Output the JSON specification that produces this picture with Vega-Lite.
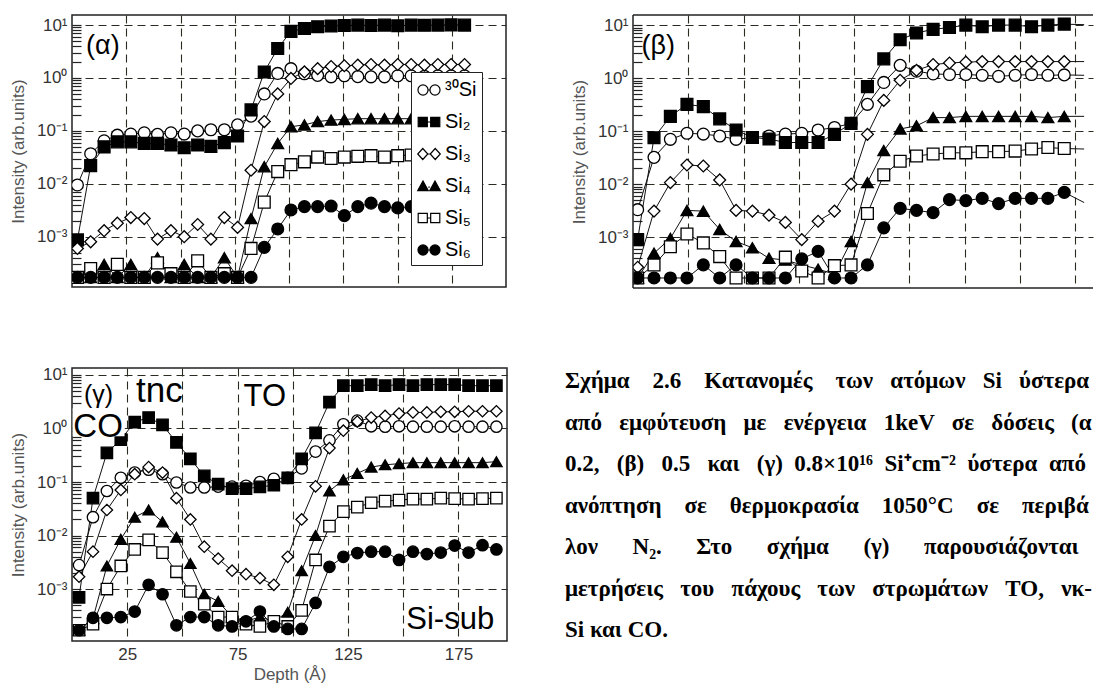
{
"$schema": "https://vega.github.io/schema/vega-lite/v6.json",
"background": "white",
"padding": {"left": 8, "top": 14, "right": 0, "bottom": 0},
"autosize": {"type": "pad"},
"config": {
  "view": {"stroke": "#222", "strokeWidth": 1.5},
  "font": "Liberation Sans",
  "axis": {"gridColor": "#2b2b22", "gridDash": [8, 5], "gridWidth": 1.1, "gridOpacity": 1, "tickColor": "#222", "tickWidth": 1.2, "labelFont": "Liberation Sans", "labelFontSize": 17, "labelColor": "#333", "titleFont": "Liberation Sans", "titleFontSize": 17, "titleFontWeight": "normal", "titleColor": "#555", "domain": false}
},
"datasets": {
  "alpha": [
    {"d":2.5,"³⁰Si":0.0095,"Si₂":0.00087,"Si₃":0.0006,"Si₄":0.00017,"Si₅":0.00017,"Si₆":0.00017},
    {"d":8.6,"³⁰Si":0.037,"Si₂":0.022,"Si₃":0.0008,"Si₄":0.00017,"Si₅":0.00025,"Si₆":0.00017},
    {"d":14.8,"³⁰Si":0.065,"Si₂":0.05,"Si₃":0.0013,"Si₄":0.0003,"Si₅":0.00017,"Si₆":0.00017},
    {"d":20.9,"³⁰Si":0.083,"Si₂":0.062,"Si₃":0.0018,"Si₄":0.00017,"Si₅":0.0003,"Si₆":0.00017},
    {"d":27.1,"³⁰Si":0.087,"Si₂":0.062,"Si₃":0.0023,"Si₄":0.0003,"Si₅":0.00017,"Si₆":0.00017},
    {"d":33.3,"³⁰Si":0.092,"Si₂":0.058,"Si₃":0.0022,"Si₄":0.00017,"Si₅":0.00017,"Si₆":0.00017},
    {"d":39.4,"³⁰Si":0.086,"Si₂":0.058,"Si₃":0.0009,"Si₄":0.0004,"Si₅":0.00032,"Si₆":0.00017},
    {"d":45.6,"³⁰Si":0.092,"Si₂":0.054,"Si₃":0.0013,"Si₄":0.00017,"Si₅":0.0002,"Si₆":0.00017},
    {"d":51.7,"³⁰Si":0.087,"Si₂":0.048,"Si₃":0.001,"Si₄":0.0003,"Si₅":0.00017,"Si₆":0.00017},
    {"d":57.9,"³⁰Si":0.1,"Si₂":0.054,"Si₃":0.0017,"Si₄":0.00017,"Si₅":0.00035,"Si₆":0.00017},
    {"d":64.0,"³⁰Si":0.105,"Si₂":0.051,"Si₃":0.0009,"Si₄":0.00017,"Si₅":0.00017,"Si₆":0.00017},
    {"d":70.2,"³⁰Si":0.105,"Si₂":0.06,"Si₃":0.0023,"Si₄":0.0004,"Si₅":0.0002,"Si₆":0.00017},
    {"d":76.3,"³⁰Si":0.13,"Si₂":0.08,"Si₃":0.0015,"Si₄":0.00017,"Si₅":0.00017,"Si₆":0.00017},
    {"d":82.5,"³⁰Si":0.19,"Si₂":0.25,"Si₃":0.018,"Si₄":0.0022,"Si₅":0.0006,"Si₆":0.00017},
    {"d":88.6,"³⁰Si":0.5,"Si₂":1.3,"Si₃":0.15,"Si₄":0.021,"Si₅":0.0045,"Si₆":0.00063},
    {"d":94.8,"³⁰Si":1.22,"Si₂":3.6,"Si₃":0.5,"Si₄":0.058,"Si₅":0.017,"Si₆":0.0014},
    {"d":100.9,"³⁰Si":1.5,"Si₂":7.6,"Si₃":0.98,"Si₄":0.12,"Si₅":0.023,"Si₆":0.0032},
    {"d":107.1,"³⁰Si":1.2,"Si₂":8.6,"Si₃":1.3,"Si₄":0.13,"Si₅":0.026,"Si₆":0.0037},
    {"d":113.2,"³⁰Si":1.12,"Si₂":9.3,"Si₃":1.5,"Si₄":0.15,"Si₅":0.032,"Si₆":0.0037},
    {"d":119.4,"³⁰Si":1.05,"Si₂":9.6,"Si₃":1.65,"Si₄":0.16,"Si₅":0.03,"Si₆":0.0038},
    {"d":125.5,"³⁰Si":1.1,"Si₂":9.8,"Si₃":1.7,"Si₄":0.165,"Si₅":0.032,"Si₆":0.0025},
    {"d":131.7,"³⁰Si":1.06,"Si₂":10,"Si₃":1.75,"Si₄":0.17,"Si₅":0.033,"Si₆":0.0037},
    {"d":137.8,"³⁰Si":1.05,"Si₂":9.8,"Si₃":1.8,"Si₄":0.17,"Si₅":0.034,"Si₆":0.0043},
    {"d":144.0,"³⁰Si":1.05,"Si₂":10,"Si₃":1.75,"Si₄":0.17,"Si₅":0.032,"Si₆":0.0037},
    {"d":150.1,"³⁰Si":1.1,"Si₂":9.7,"Si₃":1.8,"Si₄":0.17,"Si₅":0.034,"Si₆":0.0035},
    {"d":156.3,"³⁰Si":1.1,"Si₂":10,"Si₃":1.8,"Si₄":0.17,"Si₅":0.035,"Si₆":0.0037},
    {"d":162.4,"³⁰Si":1.08,"Si₂":9.9,"Si₃":1.75,"Si₄":0.17,"Si₅":0.035,"Si₆":0.004},
    {"d":168.6,"³⁰Si":1.1,"Si₂":10,"Si₃":1.8,"Si₄":0.17,"Si₅":0.035,"Si₆":0.004},
    {"d":174.7,"³⁰Si":1.1,"Si₂":10.1,"Si₃":1.8,"Si₄":0.17,"Si₅":0.035,"Si₆":0.004},
    {"d":180.9,"³⁰Si":1.1,"Si₂":10,"Si₃":1.8,"Si₄":0.17,"Si₅":0.035,"Si₆":0.004}
  ],
  "beta": [
    {"d":2.1,"³⁰Si":0.0033,"Si₂":0.0009,"Si₃":0.00027,"Si₄":0.00017,"Si₅":0.00017,"Si₆":0.00017},
    {"d":9.5,"³⁰Si":0.032,"Si₂":0.075,"Si₃":0.0031,"Si₄":0.0005,"Si₅":0.0003,"Si₆":0.00017},
    {"d":16.9,"³⁰Si":0.07,"Si₂":0.19,"Si₃":0.0107,"Si₄":0.00095,"Si₅":0.00066,"Si₆":0.00017},
    {"d":24.4,"³⁰Si":0.091,"Si₂":0.32,"Si₃":0.023,"Si₄":0.0032,"Si₅":0.00115,"Si₆":0.00017},
    {"d":31.8,"³⁰Si":0.088,"Si₂":0.29,"Si₃":0.022,"Si₄":0.0031,"Si₅":0.00078,"Si₆":0.0003},
    {"d":39.2,"³⁰Si":0.081,"Si₂":0.17,"Si₃":0.012,"Si₄":0.0014,"Si₅":0.00043,"Si₆":0.00017},
    {"d":46.6,"³⁰Si":0.07,"Si₂":0.105,"Si₃":0.0032,"Si₄":0.00083,"Si₅":0.00017,"Si₆":0.0003},
    {"d":54.0,"³⁰Si":0.076,"Si₂":0.076,"Si₃":0.0031,"Si₄":0.00063,"Si₅":0.00017,"Si₆":0.00017},
    {"d":61.5,"³⁰Si":0.081,"Si₂":0.071,"Si₃":0.0026,"Si₄":0.0004,"Si₅":0.00017,"Si₆":0.00017},
    {"d":68.9,"³⁰Si":0.088,"Si₂":0.061,"Si₃":0.0019,"Si₄":0.00037,"Si₅":0.00042,"Si₆":0.00017},
    {"d":76.3,"³⁰Si":0.091,"Si₂":0.061,"Si₃":0.0009,"Si₄":0.0003,"Si₅":0.00023,"Si₆":0.00039},
    {"d":83.7,"³⁰Si":0.105,"Si₂":0.061,"Si₃":0.002,"Si₄":0.00025,"Si₅":0.00017,"Si₆":0.00054},
    {"d":91.1,"³⁰Si":0.117,"Si₂":0.087,"Si₃":0.0031,"Si₄":0.0002,"Si₅":0.00029,"Si₆":0.00017},
    {"d":98.6,"³⁰Si":0.14,"Si₂":0.14,"Si₃":0.01,"Si₄":0.00083,"Si₅":0.0003,"Si₆":0.00017},
    {"d":106.0,"³⁰Si":0.32,"Si₂":0.69,"Si₃":0.087,"Si₄":0.0107,"Si₅":0.0028,"Si₆":0.0003},
    {"d":113.4,"³⁰Si":0.83,"Si₂":2.3,"Si₃":0.38,"Si₄":0.043,"Si₅":0.015,"Si₆":0.0015},
    {"d":120.8,"³⁰Si":1.74,"Si₂":5.3,"Si₃":0.91,"Si₄":0.11,"Si₅":0.027,"Si₆":0.0035},
    {"d":128.2,"³⁰Si":1.35,"Si₂":7.1,"Si₃":1.4,"Si₄":0.126,"Si₅":0.034,"Si₆":0.0032},
    {"d":135.7,"³⁰Si":1.2,"Si₂":8.3,"Si₃":1.8,"Si₄":0.18,"Si₅":0.037,"Si₆":0.0029},
    {"d":143.1,"³⁰Si":1.17,"Si₂":9.0,"Si₃":1.93,"Si₄":0.18,"Si₅":0.039,"Si₆":0.0051},
    {"d":150.5,"³⁰Si":1.17,"Si₂":10,"Si₃":2.0,"Si₄":0.19,"Si₅":0.039,"Si₆":0.0049},
    {"d":157.9,"³⁰Si":1.13,"Si₂":9.3,"Si₃":2.05,"Si₄":0.19,"Si₅":0.041,"Si₆":0.0054},
    {"d":165.3,"³⁰Si":1.08,"Si₂":10,"Si₃":2.05,"Si₄":0.19,"Si₅":0.041,"Si₆":0.0043},
    {"d":172.8,"³⁰Si":1.13,"Si₂":10,"Si₃":2.05,"Si₄":0.19,"Si₅":0.042,"Si₆":0.0054},
    {"d":180.2,"³⁰Si":1.17,"Si₂":9.3,"Si₃":2.05,"Si₄":0.19,"Si₅":0.046,"Si₆":0.0054},
    {"d":187.6,"³⁰Si":1.13,"Si₂":10,"Si₃":2.05,"Si₄":0.18,"Si₅":0.049,"Si₆":0.0054},
    {"d":195.0,"³⁰Si":1.15,"Si₂":10.4,"Si₃":2.05,"Si₄":0.19,"Si₅":0.047,"Si₆":0.007},
    {"d":204.0,"³⁰Si":1.13,"Si₂":10.2,"Si₃":2.05,"Si₄":0.19,"Si₅":0.046,"Si₆":0.0045}
  ],
  "gamma": [
    {"d":3.2,"³⁰Si":0.0028,"Si₂":0.0007,"Si₃":0.0017,"Si₄":0.00017,"Si₅":0.00017,"Si₆":0.00017},
    {"d":9.5,"³⁰Si":0.022,"Si₂":0.05,"Si₃":0.005,"Si₄":0.00028,"Si₅":0.00022,"Si₆":0.00029},
    {"d":15.8,"³⁰Si":0.068,"Si₂":0.35,"Si₃":0.03,"Si₄":0.0027,"Si₅":0.001,"Si₆":0.00029},
    {"d":22.1,"³⁰Si":0.12,"Si₂":0.62,"Si₃":0.071,"Si₄":0.0085,"Si₅":0.0027,"Si₆":0.0003},
    {"d":28.4,"³⁰Si":0.15,"Si₂":1.32,"Si₃":0.14,"Si₄":0.022,"Si₅":0.0055,"Si₆":0.00038},
    {"d":34.7,"³⁰Si":0.17,"Si₂":1.6,"Si₃":0.19,"Si₄":0.03,"Si₅":0.0083,"Si₆":0.0012},
    {"d":41.0,"³⁰Si":0.14,"Si₂":1.17,"Si₃":0.15,"Si₄":0.018,"Si₅":0.0048,"Si₆":0.0008},
    {"d":47.3,"³⁰Si":0.098,"Si₂":0.55,"Si₃":0.05,"Si₄":0.0093,"Si₅":0.0021,"Si₆":0.00021},
    {"d":53.6,"³⁰Si":0.079,"Si₂":0.27,"Si₃":0.02,"Si₄":0.003,"Si₅":0.0009,"Si₆":0.0003},
    {"d":59.9,"³⁰Si":0.079,"Si₂":0.13,"Si₃":0.0062,"Si₄":0.0008,"Si₅":0.00052,"Si₆":0.0003},
    {"d":66.2,"³⁰Si":0.082,"Si₂":0.091,"Si₃":0.0037,"Si₄":0.00059,"Si₅":0.0003,"Si₆":0.00021},
    {"d":72.5,"³⁰Si":0.082,"Si₂":0.075,"Si₃":0.0022,"Si₄":0.0003,"Si₅":0.0003,"Si₆":0.0002},
    {"d":78.8,"³⁰Si":0.085,"Si₂":0.075,"Si₃":0.0019,"Si₄":0.00025,"Si₅":0.00022,"Si₆":0.00025},
    {"d":85.1,"³⁰Si":0.1,"Si₂":0.081,"Si₃":0.0016,"Si₄":0.0003,"Si₅":0.0002,"Si₆":0.00038},
    {"d":91.4,"³⁰Si":0.115,"Si₂":0.087,"Si₃":0.0012,"Si₄":0.00025,"Si₅":0.00025,"Si₆":0.0002},
    {"d":97.7,"³⁰Si":0.12,"Si₂":0.12,"Si₃":0.004,"Si₄":0.00037,"Si₅":0.0002,"Si₆":0.00018},
    {"d":104.0,"³⁰Si":0.18,"Si₂":0.27,"Si₃":0.02,"Si₄":0.0022,"Si₅":0.0004,"Si₆":0.00018},
    {"d":110.3,"³⁰Si":0.37,"Si₂":0.83,"Si₃":0.083,"Si₄":0.01,"Si₅":0.0035,"Si₆":0.00055},
    {"d":116.6,"³⁰Si":0.6,"Si₂":3.1,"Si₃":0.43,"Si₄":0.068,"Si₅":0.015,"Si₆":0.0026},
    {"d":122.9,"³⁰Si":1.2,"Si₂":6.3,"Si₃":0.91,"Si₄":0.11,"Si₅":0.028,"Si₆":0.004},
    {"d":129.2,"³⁰Si":1.4,"Si₂":6.3,"Si₃":1.35,"Si₄":0.145,"Si₅":0.034,"Si₆":0.0047},
    {"d":135.5,"³⁰Si":1.1,"Si₂":6.6,"Si₃":1.6,"Si₄":0.19,"Si₅":0.041,"Si₆":0.005},
    {"d":141.8,"³⁰Si":1.08,"Si₂":6.3,"Si₃":1.72,"Si₄":0.21,"Si₅":0.044,"Si₆":0.005},
    {"d":148.1,"³⁰Si":1.1,"Si₂":6.6,"Si₃":1.9,"Si₄":0.22,"Si₅":0.046,"Si₆":0.0035},
    {"d":154.4,"³⁰Si":1.08,"Si₂":6.3,"Si₃":2.0,"Si₄":0.23,"Si₅":0.048,"Si₆":0.005},
    {"d":160.7,"³⁰Si":1.08,"Si₂":6.6,"Si₃":2.0,"Si₄":0.23,"Si₅":0.048,"Si₆":0.0045},
    {"d":167.0,"³⁰Si":1.08,"Si₂":6.6,"Si₃":2.05,"Si₄":0.23,"Si₅":0.05,"Si₆":0.0048},
    {"d":173.3,"³⁰Si":1.1,"Si₂":6.6,"Si₃":2.05,"Si₄":0.23,"Si₅":0.049,"Si₆":0.0065},
    {"d":179.6,"³⁰Si":1.08,"Si₂":6.3,"Si₃":2.1,"Si₄":0.23,"Si₅":0.048,"Si₆":0.0048},
    {"d":185.9,"³⁰Si":1.08,"Si₂":6.3,"Si₃":2.1,"Si₄":0.23,"Si₅":0.049,"Si₆":0.0066},
    {"d":192.2,"³⁰Si":1.08,"Si₂":6.3,"Si₃":2.1,"Si₄":0.24,"Si₅":0.05,"Si₆":0.0055}
  ]
},
"spacing": 76,
"vconcat": [
 {"hconcat": [
  {
   "width": 434, "height": 272,
   "layer": [
    {"data": {"name": "alpha"}, "transform": [{"fold": ["³⁰Si","Si₂","Si₃","Si₄","Si₅","Si₆"], "as": ["s","v"]}],
     "mark": {"type": "line", "color": "#111", "strokeWidth": 1, "clip": true},
     "encoding": {
      "x": {"field": "d", "type": "quantitative", "scale": {"domain": [0, 200], "nice": false, "zero": false}, "axis": {"values": [25,50,75,100,125,150,175], "labels": false, "ticks": false, "title": null, "grid": true}},
      "y": {"field": "v", "type": "quantitative", "scale": {"type": "log", "domain": [0.000112, 15.5], "nice": false}, "axis": {"title": "Intensity (arb.units)", "values": [0.0002,0.0003,0.0004,0.0005,0.0006,0.0007,0.0008,0.0009,0.001,0.002,0.003,0.004,0.005,0.006,0.007,0.008,0.009,0.01,0.02,0.03,0.04,0.05,0.06,0.07,0.08,0.09,0.1,0.2,0.3,0.4,0.5,0.6,0.7,0.8,0.9,1,2,3,4,5,6,7,8,9,10], "labelExpr": "datum.value==10?'10¹':datum.value==1?'10⁰':datum.value==0.1?'10⁻¹':datum.value==0.01?'10⁻²':datum.value==0.001?'10⁻³':''", "labelOverlap": false, "labelBound": false, "labelFlush": false, "grid": true, "gridOpacity": {"condition": {"test": "datum.value==10||datum.value==1||datum.value==0.1||datum.value==0.01||datum.value==0.001", "value": 1}, "value": 0}, "tickSize": -9, "labelPadding": 14, "titlePadding": 9}},
      "detail": {"field": "s"}
     }},
    {"data": {"name": "alpha"}, "transform": [{"fold": ["³⁰Si","Si₂","Si₃","Si₄","Si₅","Si₆"], "as": ["s","v"]}],
     "mark": {"type": "point", "filled": true, "stroke": "#000", "strokeWidth": 1.3, "size": 140, "opacity": 1, "clip": true},
     "encoding": {
      "x": {"field": "d", "type": "quantitative", "scale": {"domain": [0, 200], "nice": false, "zero": false}},
      "y": {"field": "v", "type": "quantitative", "scale": {"type": "log", "domain": [0.000112, 15.5], "nice": false}},
      "shape": {"field": "s", "type": "nominal", "scale": {"domain": ["³⁰Si","Si₂","Si₃","Si₄","Si₅","Si₆"], "range": ["circle","square","diamond","triangle-up","square","circle"]}, "legend": null},
      "fill": {"field": "s", "type": "nominal", "scale": {"domain": ["³⁰Si","Si₂","Si₃","Si₄","Si₅","Si₆"], "range": ["#fff","#000","#fff","#000","#fff","#000"]}, "legend": null}
     }},
    {"data": {"name": "alpha"}, "transform": [{"fold": ["³⁰Si","Si₂","Si₃","Si₄","Si₅","Si₆"], "as": ["s","v"]}, {"filter": "false"}],
     "mark": {"type": "point", "filled": true, "strokeWidth": 1.2, "opacity": 1},
     "encoding": {
      "x": {"field": "d", "type": "quantitative", "scale": {"domain": [0, 200], "nice": false, "zero": false}},
      "y": {"field": "v", "type": "quantitative", "scale": {"type": "log", "domain": [0.000112, 15.5], "nice": false}},
      "shape": {"field": "s", "type": "nominal", "scale": {"domain": ["³⁰Si","Si₂","Si₃","Si₄","Si₅","Si₆"], "range": [
        "M-0.92,0A0.42,0.42,0,1,0,-0.08,0A0.42,0.42,0,1,0,-0.92,0ZM-0.08,0H0.08M0.08,0A0.42,0.42,0,1,0,0.92,0A0.42,0.42,0,1,0,0.08,0Z",
        "M-0.9,-0.38H-0.14V0.38H-0.9ZM-0.14,0H0.14M0.14,-0.38H0.9V0.38H0.14Z",
        "M-0.52,-0.46L-0.1,0L-0.52,0.46L-0.94,0ZM-0.1,0H0.1M0.52,-0.46L0.94,0L0.52,0.46L0.1,0Z",
        "M-0.5,-0.42L-0.06,0.38H-0.94ZM-0.06,0.1H0.06M0.5,-0.42L0.94,0.38H0.06Z",
        "M-0.9,-0.38H-0.14V0.38H-0.9ZM-0.14,0H0.14M0.14,-0.38H0.9V0.38H0.14Z",
        "M-0.92,0A0.42,0.42,0,1,0,-0.08,0A0.42,0.42,0,1,0,-0.92,0ZM-0.08,0H0.08M0.08,0A0.42,0.42,0,1,0,0.92,0A0.42,0.42,0,1,0,0.08,0Z"]},
        "legend": {"title": null, "orient": "none", "legendX": 339, "legendY": 57, "padding": 5, "rowPadding": 9, "labelFont": "Liberation Sans", "labelFontSize": 20, "labelColor": "#000", "labelOffset": 3, "symbolSize": 576, "symbolStrokeWidth": 1.2, "symbolOpacity": 1, "strokeColor": "#222", "fillColor": "#fff", "zindex": 1}},
      "fill": {"field": "s", "type": "nominal", "scale": {"domain": ["³⁰Si","Si₂","Si₃","Si₄","Si₅","Si₆"], "range": ["#fff","#000","#fff","#000","#fff","#000"]},
        "legend": {"title": null, "orient": "none", "legendX": 339, "legendY": 57, "padding": 5, "rowPadding": 9, "labelFont": "Liberation Sans", "labelFontSize": 20, "labelColor": "#000", "labelOffset": 3, "symbolSize": 576, "symbolStrokeWidth": 1.2, "symbolOpacity": 1, "strokeColor": "#222", "fillColor": "#fff", "zindex": 1}},
      "stroke": {"field": "s", "type": "nominal", "scale": {"domain": ["³⁰Si","Si₂","Si₃","Si₄","Si₅","Si₆"], "range": ["#000","#000","#000","#000","#000","#000"]},
        "legend": {"title": null, "orient": "none", "legendX": 339, "legendY": 57, "padding": 5, "rowPadding": 9, "labelFont": "Liberation Sans", "labelFontSize": 20, "labelColor": "#000", "labelOffset": 3, "symbolSize": 576, "symbolStrokeWidth": 1.2, "symbolOpacity": 1, "strokeColor": "#222", "fillColor": "#fff", "zindex": 1}}
     }},
    {"data": {"values": [{"d": 6.5, "v": 2.9, "t": "(α)"}]},
     "mark": {"type": "text", "align": "left", "baseline": "alphabetic", "font": "Liberation Sans", "fontSize": 27, "color": "#000"},
     "encoding": {
      "x": {"field": "d", "type": "quantitative", "scale": {"domain": [0, 200], "nice": false, "zero": false}},
      "y": {"field": "v", "type": "quantitative", "scale": {"type": "log", "domain": [0.000112, 15.5], "nice": false}},
      "text": {"field": "t"}
     }}
   ],
   "resolve": {"scale": {"shape": "independent", "fill": "independent", "stroke": "independent"}}
  },
  {
   "width": 460, "height": 273,
   "view": {"stroke": null},
   "layer": [
    {"data": {"name": "beta"}, "transform": [{"fold": ["³⁰Si","Si₂","Si₃","Si₄","Si₅","Si₆"], "as": ["s","v"]}],
     "mark": {"type": "line", "color": "#111", "strokeWidth": 1, "clip": true},
     "encoding": {
      "x": {"field": "d", "type": "quantitative", "scale": {"domain": [0, 208], "nice": false, "zero": false}, "axis": {"values": [25,50,75,100,125,150,175,200], "labels": false, "ticks": false, "title": null, "grid": true}},
      "y": {"field": "v", "type": "quantitative", "scale": {"type": "log", "domain": [0.00011, 15.5], "nice": false}, "axis": {"title": "Intensity (arb.units)", "values": [0.0002,0.0003,0.0004,0.0005,0.0006,0.0007,0.0008,0.0009,0.001,0.002,0.003,0.004,0.005,0.006,0.007,0.008,0.009,0.01,0.02,0.03,0.04,0.05,0.06,0.07,0.08,0.09,0.1,0.2,0.3,0.4,0.5,0.6,0.7,0.8,0.9,1,2,3,4,5,6,7,8,9,10], "labelExpr": "datum.value==10?'10¹':datum.value==1?'10⁰':datum.value==0.1?'10⁻¹':datum.value==0.01?'10⁻²':datum.value==0.001?'10⁻³':''", "labelOverlap": false, "labelBound": false, "labelFlush": false, "grid": true, "gridOpacity": {"condition": {"test": "datum.value==10||datum.value==1||datum.value==0.1||datum.value==0.01||datum.value==0.001", "value": 1}, "value": 0}, "tickSize": -9, "labelPadding": 14, "titlePadding": 9}},
      "detail": {"field": "s"}
     }},
    {"data": {"name": "beta"}, "transform": [{"fold": ["³⁰Si","Si₂","Si₃","Si₄","Si₅","Si₆"], "as": ["s","v"]}, {"filter": "datum.d < 200"}],
     "mark": {"type": "point", "filled": true, "stroke": "#000", "strokeWidth": 1.3, "size": 140, "opacity": 1, "clip": true},
     "encoding": {
      "x": {"field": "d", "type": "quantitative", "scale": {"domain": [0, 208], "nice": false, "zero": false}},
      "y": {"field": "v", "type": "quantitative", "scale": {"type": "log", "domain": [0.00011, 15.5], "nice": false}},
      "shape": {"field": "s", "type": "nominal", "scale": {"domain": ["³⁰Si","Si₂","Si₃","Si₄","Si₅","Si₆"], "range": ["circle","square","diamond","triangle-up","square","circle"]}, "legend": null},
      "fill": {"field": "s", "type": "nominal", "scale": {"domain": ["³⁰Si","Si₂","Si₃","Si₄","Si₅","Si₆"], "range": ["#fff","#000","#fff","#000","#fff","#000"]}, "legend": null}
     }},
    {"data": {"values": [{"d": 3.8, "v": 2.9, "t": "(β)"}]},
     "mark": {"type": "text", "align": "left", "baseline": "alphabetic", "font": "Liberation Sans", "fontSize": 27, "color": "#000"},
     "encoding": {
      "x": {"field": "d", "type": "quantitative", "scale": {"domain": [0, 208], "nice": false, "zero": false}},
      "y": {"field": "v", "type": "quantitative", "scale": {"type": "log", "domain": [0.00011, 15.5], "nice": false}},
      "text": {"field": "t"}
     }},
    {"data": {"values": [{}]}, "mark": {"type": "rule", "color": "#222", "strokeWidth": 1.5},
     "encoding": {"x": {"datum": 0, "type": "quantitative", "scale": {"domain": [0, 208], "nice": false, "zero": false}}}},
    {"data": {"values": [{}]}, "mark": {"type": "rule", "color": "#222", "strokeWidth": 1.5},
     "encoding": {"y": {"datum": 15.5, "type": "quantitative", "scale": {"type": "log", "domain": [0.00011, 15.5], "nice": false}}}},
    {"data": {"values": [{}]}, "mark": {"type": "rule", "color": "#222", "strokeWidth": 1.5},
     "encoding": {"y": {"datum": 0.00011, "type": "quantitative", "scale": {"type": "log", "domain": [0.00011, 15.5], "nice": false}}}}
   ],
   "resolve": {"scale": {"shape": "independent", "fill": "independent"}}
  }
 ], "spacing": 127, "bounds": "flush"},
 {"hconcat": [
  {
   "width": 435, "height": 273,
   "layer": [
    {"data": {"name": "gamma"}, "transform": [{"fold": ["³⁰Si","Si₂","Si₃","Si₄","Si₅","Si₆"], "as": ["s","v"]}],
     "mark": {"type": "line", "color": "#111", "strokeWidth": 1, "clip": true},
     "encoding": {
      "x": {"field": "d", "type": "quantitative", "scale": {"domain": [0, 197], "nice": false, "zero": false}, "axis": {"values": [25,50,75,100,125,150,175], "labelExpr": "datum.value==25||datum.value==75||datum.value==125||datum.value==175?datum.label:''", "labelOverlap": false, "ticks": false, "labelPadding": 5, "title": "Depth (Å)", "titlePadding": 4, "grid": true}},
      "y": {"field": "v", "type": "quantitative", "scale": {"type": "log", "domain": [0.000107, 13.5], "nice": false}, "axis": {"title": "Intensity (arb.units)", "values": [0.0002,0.0003,0.0004,0.0005,0.0006,0.0007,0.0008,0.0009,0.001,0.002,0.003,0.004,0.005,0.006,0.007,0.008,0.009,0.01,0.02,0.03,0.04,0.05,0.06,0.07,0.08,0.09,0.1,0.2,0.3,0.4,0.5,0.6,0.7,0.8,0.9,1,2,3,4,5,6,7,8,9,10], "labelExpr": "datum.value==10?'10¹':datum.value==1?'10⁰':datum.value==0.1?'10⁻¹':datum.value==0.01?'10⁻²':datum.value==0.001?'10⁻³':''", "labelOverlap": false, "labelBound": false, "labelFlush": false, "grid": true, "gridOpacity": {"condition": {"test": "datum.value==10||datum.value==1||datum.value==0.1||datum.value==0.01||datum.value==0.001", "value": 1}, "value": 0}, "tickSize": -9, "labelPadding": 14, "titlePadding": 9}},
      "detail": {"field": "s"}
     }},
    {"data": {"name": "gamma"}, "transform": [{"fold": ["³⁰Si","Si₂","Si₃","Si₄","Si₅","Si₆"], "as": ["s","v"]}],
     "mark": {"type": "point", "filled": true, "stroke": "#000", "strokeWidth": 1.3, "size": 130, "opacity": 1, "clip": true},
     "encoding": {
      "x": {"field": "d", "type": "quantitative", "scale": {"domain": [0, 197], "nice": false, "zero": false}},
      "y": {"field": "v", "type": "quantitative", "scale": {"type": "log", "domain": [0.000107, 13.5], "nice": false}},
      "shape": {"field": "s", "type": "nominal", "scale": {"domain": ["³⁰Si","Si₂","Si₃","Si₄","Si₅","Si₆"], "range": ["circle","square","diamond","triangle-up","square","circle"]}, "legend": null},
      "fill": {"field": "s", "type": "nominal", "scale": {"domain": ["³⁰Si","Si₂","Si₃","Si₄","Si₅","Si₆"], "range": ["#fff","#000","#fff","#000","#fff","#000"]}, "legend": null}
     }},
    {"data": {"values": [{"d": 0.3, "d2": 23.8, "v": 0.72, "v2": 2.4}]},
     "mark": {"type": "rect", "color": "#fff"},
     "encoding": {
      "x": {"field": "d", "type": "quantitative", "scale": {"domain": [0, 197], "nice": false, "zero": false}},
      "x2": {"field": "d2"},
      "y": {"field": "v", "type": "quantitative", "scale": {"type": "log", "domain": [0.000107, 13.5], "nice": false}},
      "y2": {"field": "v2"}
     }},
    {"data": {"values": [{"d": 5.4, "v": 3.0, "t": "(γ)"}]},
     "mark": {"type": "text", "align": "left", "baseline": "alphabetic", "font": "Liberation Sans", "fontSize": 25, "color": "#000"},
     "encoding": {
      "x": {"field": "d", "type": "quantitative", "scale": {"domain": [0, 197], "nice": false, "zero": false}},
      "y": {"field": "v", "type": "quantitative", "scale": {"type": "log", "domain": [0.000107, 13.5], "nice": false}},
      "text": {"field": "t"}
     }},
    {"data": {"values": [{"d": 29.0, "v": 3.1, "t": "tnc"}]},
     "mark": {"type": "text", "align": "left", "baseline": "alphabetic", "font": "Liberation Sans", "fontSize": 35, "color": "#000"},
     "encoding": {
      "x": {"field": "d", "type": "quantitative", "scale": {"domain": [0, 197], "nice": false, "zero": false}},
      "y": {"field": "v", "type": "quantitative", "scale": {"type": "log", "domain": [0.000107, 13.5], "nice": false}},
      "text": {"field": "t"}
     }},
    {"data": {"values": [{"d": 77.7, "v": 2.63, "t": "TO"}, {"d": 151.4, "v": 0.000178, "t": "Si-sub"}]},
     "mark": {"type": "text", "align": "left", "baseline": "alphabetic", "font": "Liberation Sans", "fontSize": 31, "color": "#000"},
     "encoding": {
      "x": {"field": "d", "type": "quantitative", "scale": {"domain": [0, 197], "nice": false, "zero": false}},
      "y": {"field": "v", "type": "quantitative", "scale": {"type": "log", "domain": [0.000107, 13.5], "nice": false}},
      "text": {"field": "t"}
     }},
    {"data": {"values": [{"d": 0.6, "v": 0.69, "t": "CO"}]},
     "mark": {"type": "text", "align": "left", "baseline": "alphabetic", "font": "Liberation Sans", "fontSize": 33, "color": "#000"},
     "encoding": {
      "x": {"field": "d", "type": "quantitative", "scale": {"domain": [0, 197], "nice": false, "zero": false}},
      "y": {"field": "v", "type": "quantitative", "scale": {"type": "log", "domain": [0.000107, 13.5], "nice": false}},
      "text": {"field": "t"}
     }}
   ],
   "resolve": {"scale": {"shape": "independent", "fill": "independent"}}
  },
  {
   "width": 529, "height": 273,
   "view": {"stroke": null},
   "data": {"values": [
     {"line": 1, "t": "Σχήμα \u00a0\u00a0\u00a02.6 \u00a0\u00a0\u00a0Κατανομές \u00a0\u00a0\u00a0των \u00a0\u00a0ατόμων \u00a0\u00a0Si \u00a0\u00a0ύστερα"},
     {"line": 2, "t": "από \u00a0\u00a0εμφύτευση \u00a0\u00a0με \u00a0\u00a0ενέργεια \u00a0\u00a01keV \u00a0\u00a0σε \u00a0\u00a0δόσεις \u00a0\u00a0(α)"},
     {"line": 3, "t": "0.2, \u00a0\u00a0(β) \u00a0\u00a00.5 \u00a0\u00a0και \u00a0\u00a0(γ) \u00a00.8×10¹⁶ \u00a0Si⁺cm⁻² \u00a0ύστερα \u00a0από"},
     {"line": 4, "t": "ανόπτηση \u00a0\u00a0\u00a0σε \u00a0\u00a0\u00a0θερμοκρασία \u00a0\u00a0\u00a01050°C \u00a0\u00a0\u00a0σε \u00a0\u00a0\u00a0περιβάλ-"},
     {"line": 5, "t": "λον \u00a0\u00a0\u00a0\u00a0\u00a0N₂. \u00a0\u00a0\u00a0\u00a0\u00a0Στο \u00a0\u00a0\u00a0\u00a0\u00a0σχήμα \u00a0\u00a0\u00a0\u00a0\u00a0(γ) \u00a0\u00a0\u00a0\u00a0\u00a0παρουσιάζονται \u00a0\u00a0\u00a0\u00a0\u00a0οι"},
     {"line": 6, "t": "μετρήσεις \u00a0\u00a0του \u00a0\u00a0πάχους \u00a0\u00a0των \u00a0\u00a0στρωμάτων \u00a0\u00a0TO, \u00a0\u00a0νκ-"},
     {"line": 7, "t": "Si και CO."}
   ]},
   "mark": {"type": "text", "align": "left", "baseline": "alphabetic", "font": "Liberation Serif", "fontWeight": "bold", "fontSize": 23, "color": "#000", "limit": 529, "ellipsis": "\u200b"},
   "encoding": {
     "x": {"datum": 0, "type": "quantitative", "scale": {"domain": [0, 1]}, "axis": null},
     "y": {"field": "line", "type": "quantitative", "scale": {"domain": [0.518, 7.096], "reverse": true, "nice": false, "zero": false}, "axis": null},
     "text": {"field": "t"}
   }
  }
 ], "spacing": 58, "bounds": "flush"}
]
}
